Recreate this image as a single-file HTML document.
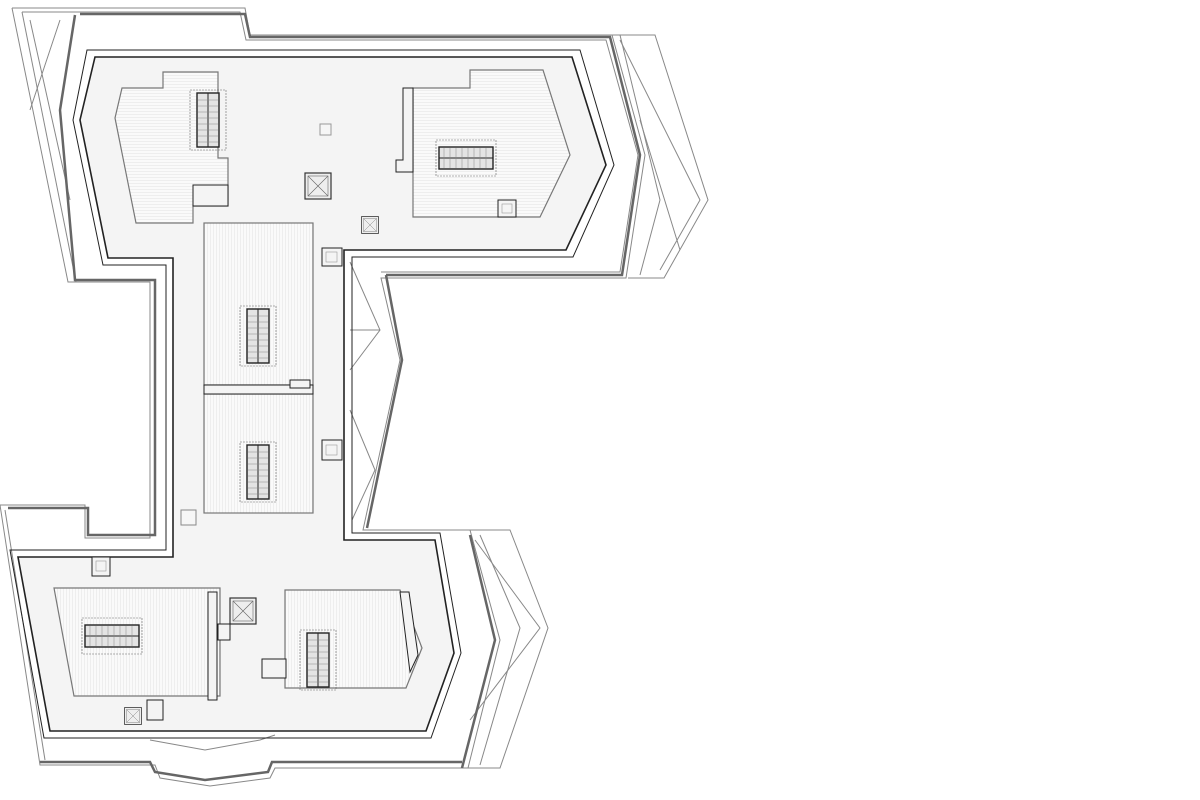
<!DOCTYPE html>
<html><head><meta charset="utf-8"><style>html,body{margin:0;padding:0;background:#fff}svg{display:block}</style></head>
<body>
<svg width="1200" height="800" viewBox="0 0 1200 800" xmlns="http://www.w3.org/2000/svg">
<defs>
<pattern id="hs" width="4" height="3" patternUnits="userSpaceOnUse"><rect width="4" height="3" fill="#fafafa"/><line x1="0" y1="0.5" x2="4" y2="0.5" stroke="#e6e6e6" stroke-width="0.6"/></pattern>
<pattern id="vs" width="3" height="4" patternUnits="userSpaceOnUse"><rect width="3" height="4" fill="#fafafa"/><line x1="0.5" y1="0" x2="0.5" y2="4" stroke="#e6e6e6" stroke-width="0.6"/></pattern>
<g id="esc"><rect x="-18" y="-30" width="36" height="60" fill="none" stroke="#666" stroke-dasharray="2,1" stroke-width="0.6"/><rect x="-11" y="-27" width="22" height="54" fill="#e4e4e4" stroke="#222" stroke-width="1.4"/><line x1="0" y1="-27" x2="0" y2="27" stroke="#222"/><path d="M-10 -20H10M-10 -14H10M-10 -8H10M-10 -2H10M-10 4H10M-10 10H10M-10 16H10M-10 22H10" stroke="#888" stroke-width="0.5"/></g>
<g id="box"><rect x="-13" y="-13" width="26" height="26" fill="#eee" stroke="#333" stroke-width="1.2"/><path d="M-10 -10L10 10M10 -10L-10 10" stroke="#666" stroke-width="0.6"/><rect x="-10" y="-10" width="20" height="20" fill="none" stroke="#666" stroke-width="0.6"/></g>
</defs>

<g fill="none" stroke="#888" stroke-width="1">
<path d="M12 8H245L250 35H612L645 155L626 278H381L400 360L363 530H470L500 640L468 768L455 768"/>
<path d="M22 12H240L246 40H606L638 155L620 272H381"/>
<path d="M612 35H655L708 200L664 278H628"/>
<path d="M620 35L660 200L640 275"/>
<path d="M12 8L68 282H150V538H85V505H0L40 765H155L160 778L210 786L270 778L275 768H455"/>
<path d="M22 12L76 282"/>
<path d="M5 510L45 760"/>
<path d="M470 530H510L548 628L500 768H460"/>
<path d="M480 535L520 628L480 765"/>
<path d="M350 262L380 330L350 370M380 330H350M350 410L375 470L352 520"/>
<path d="M30 20L70 200M60 20L30 110"/>
<path d="M620 40L700 200L660 270M640 120L680 250"/>
<path d="M475 540L540 628L470 720"/>
<path d="M150 740L205 750L260 740L275 735"/>
</g>
<g fill="none" stroke="#666" stroke-width="2.5">
<path d="M80 14H245L250 37H610L640 155L622 275H386"/>
<path d="M386 275L402 360L367 528"/>
<path d="M75 15L60 110L75 280H155V535H88V508H8"/>
<path d="M470 535L495 640L462 768"/>
<path d="M40 762H150L155 772L205 780L268 772L272 762H462"/>
</g>

<path d="M95 57H572L606 165L566 250H344V540H435L454 653L426 731H50L18 557H173V258H108L80 120Z" fill="#f4f4f4" stroke="#222" stroke-width="1.6"/>
<path d="M87 50H580L614 165L573 257H352V533H440L461 653L431 738H44L10 550H166V265H103L73 120Z" fill="none" stroke="#222" stroke-width="1"/>
<rect x="322" y="248" width="20" height="18" fill="#f4f4f4" stroke="#222"/>
<rect x="322" y="440" width="20" height="20" fill="#f4f4f4" stroke="#222"/>
<rect x="326" y="252" width="11" height="10" fill="none" stroke="#999" stroke-width="0.6"/>
<rect x="326" y="445" width="11" height="10" fill="none" stroke="#999" stroke-width="0.6"/>

<g stroke="#777" stroke-width="1.2">
<path d="M122 88H163V72H218V158H228V206H193V223H136L115 118Z" fill="url(#hs)"/>
<path d="M413 88H470V70H543L570 155L540 217H413Z" fill="url(#hs)"/>
<rect x="204" y="223" width="109" height="162" fill="url(#vs)"/>
<rect x="204" y="394" width="109" height="119" fill="url(#vs)"/>
<path d="M54 588H220V696H74Z" fill="url(#vs)"/>
<path d="M285 590H400L422 648L406 688H285Z" fill="url(#vs)"/>
</g>
<rect x="204" y="385" width="109" height="9" fill="#f4f4f4" stroke="#222"/>
<rect x="290" y="380" width="20" height="8" fill="#f4f4f4" stroke="#222"/>
<path d="M403 88H413V172H396V160H403Z" fill="#f4f4f4" stroke="#222"/>
<path d="M208 592H217V700H208Z" fill="#f4f4f4" stroke="#222"/>
<path d="M400 592L409 592L418 655L410 672Z" fill="#f4f4f4" stroke="#222"/>
<rect x="193" y="185" width="35" height="21" fill="#f4f4f4" stroke="#222"/>

<use href="#esc" x="208" y="120"/>
<use href="#esc" x="466" y="158" transform="rotate(90 466 158)"/>
<use href="#esc" x="258" y="336"/>
<use href="#esc" x="258" y="472"/>
<use href="#esc" x="112" y="636" transform="rotate(90 112 636)"/>
<use href="#esc" x="318" y="660"/>

<use href="#box" x="318" y="186"/>
<use href="#box" x="243" y="611"/>
<g transform="translate(370 225) scale(0.65)"><use href="#box"/></g>
<g transform="translate(133 716) scale(0.65)"><use href="#box"/></g>
<rect x="320" y="124" width="11" height="11" fill="#f6f6f6" stroke="#999"/>
<rect x="181" y="510" width="15" height="15" fill="#f6f6f6" stroke="#888"/>
<rect x="92" y="557" width="18" height="19" fill="#f4f4f4" stroke="#222"/>
<rect x="96" y="561" width="10" height="10" fill="none" stroke="#999" stroke-width="0.6"/>
<rect x="498" y="200" width="18" height="17" fill="#f4f4f4" stroke="#222"/>
<rect x="502" y="204" width="10" height="9" fill="none" stroke="#999" stroke-width="0.6"/>
<rect x="147" y="700" width="16" height="20" fill="#f4f4f4" stroke="#222"/>
<rect x="262" y="659" width="24" height="19" fill="#f4f4f4" stroke="#222"/>
<rect x="218" y="624" width="12" height="16" fill="#f4f4f4" stroke="#222"/>
</svg>
</body></html>
